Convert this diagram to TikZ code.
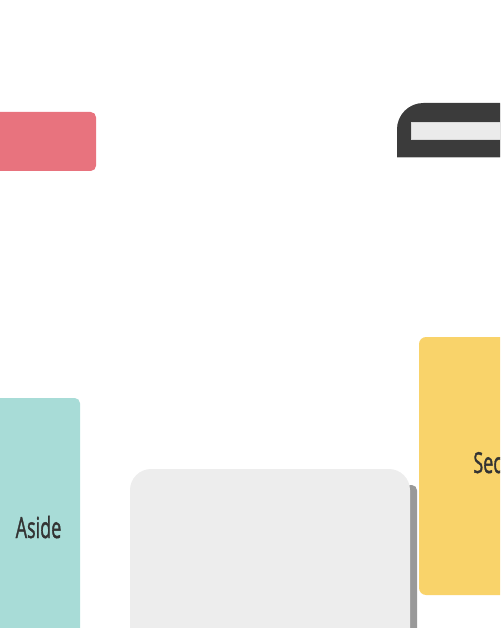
\documentclass[tikz,border=0pt]{standalone}
\usepackage{fontspec}
\usepackage{graphicx}
\setmainfont{Open Sans}
\newfontfamily\labelfont{Open Sans}[FakeBold=1.6]
\definecolor{pinkbar}{HTML}{E8737E}
\definecolor{darkbar}{HTML}{3B3B3B}
\definecolor{lightbar}{HTML}{EBEBEB}
\definecolor{asidecol}{HTML}{A8DCD7}
\definecolor{maincol}{HTML}{EDEDED}
\definecolor{shadowcol}{HTML}{999999}
\definecolor{sectioncol}{HTML}{F9D36A}
\definecolor{labelcol}{HTML}{333333}
\newcommand{\boxlabel}[1]{\scalebox{0.62}[1]{\labelfont\fontsize{16.5}{18}\selectfont #1}}
\tikzset{
  boxtext/.style={text=labelcol, inner sep=0pt}
}
\begin{document}
\begin{tikzpicture}[x=0.02cm, y=-0.02cm]
    % Rahmen (Pixelmass 500x628)
    \useasboundingbox (0,0) rectangle (500,628);
    \clip (0,0) rectangle (500,628);

    % 1. Rote Leiste links oben
    \fill[pinkbar, rounded corners=3] (-10,112) rectangle (96,171);

    % 2. Dunkle Suchleiste rechts oben
    \fill[black!25] (397,158) [rounded corners=15] -- (397,104) [sharp corners] -- (520,104) -- (520,158) -- cycle;
    \fill[darkbar] (397,157) [rounded corners=15] -- (397,103) [sharp corners] -- (520,103) -- (520,157) -- cycle;
    \filldraw[fill=lightbar, draw=black!15] (411,122) rectangle (510,139);

    % 3. Aside
    \fill[asidecol, rounded corners=3] (-10,398) rectangle (80,640);
    \node[boxtext, anchor=base] (aside) at (38.5,538) {\boxlabel{Aside}};

    % 4. Hauptbereich mit Schatten
    \fill[shadowcol, rounded corners=3] (405,485) rectangle (417,640);
    \fill[maincol, rounded corners=12] (130,469) rectangle (410,660);

    % 5. Section rechts
    \fill[sectioncol, rounded corners=4] (419,337) rectangle (520,595);
    \node[boxtext, anchor=base west] (section) at (473,473) {\boxlabel{Sec}};
\end{tikzpicture}
\end{document}
